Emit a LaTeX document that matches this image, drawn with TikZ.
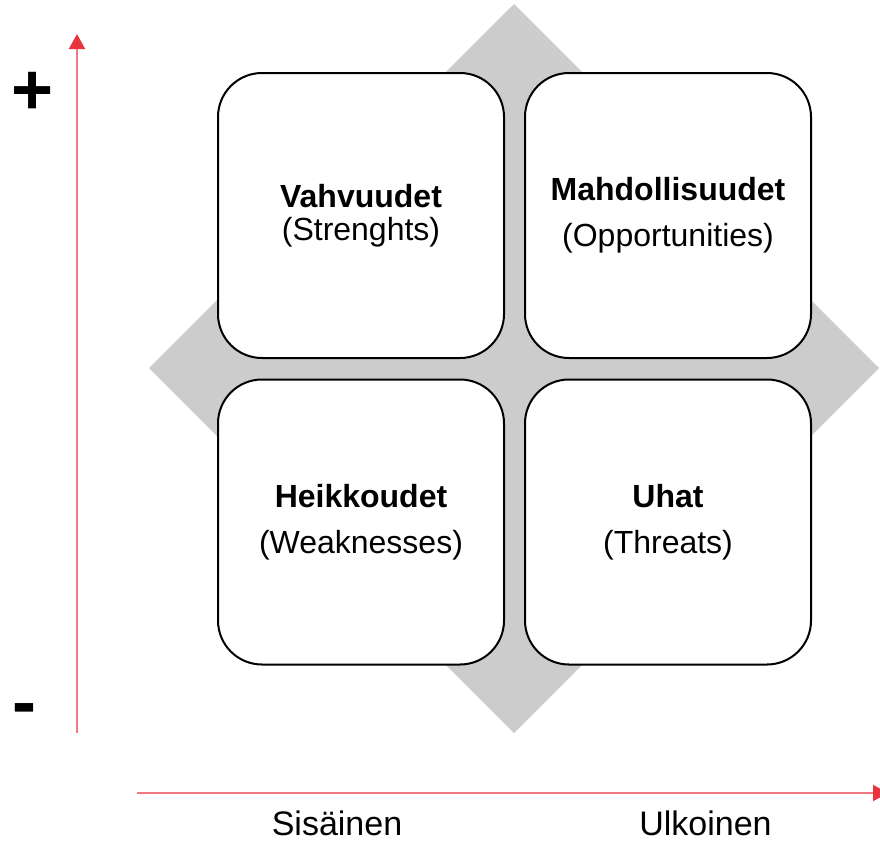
\documentclass[tikz,border=0pt]{standalone}
\usepackage{fontspec}
\setmainfont{Liberation Sans}
\usetikzlibrary{arrows.meta}
\definecolor{diagray}{RGB}{204,204,204}
\definecolor{axisline}{RGB}{240,124,130}
\definecolor{axistip}{RGB}{232,52,62}
\begin{document}
\begin{tikzpicture}[x=1pt,y=-1pt,
    swotbox/.style={draw=black,line width=2pt,fill=white,rounded corners=44pt,
        minimum width=286pt,minimum height=285pt,inner sep=0pt,align=center,
        font=\fontsize{32}{38}\selectfont},
    axis/.style={draw=axisline,line width=2pt,
        -{Triangle[length=15pt,width=16pt,color=axistip]}},
    axislabel/.style={anchor=base,inner sep=0pt,font=\fontsize{34}{40}\selectfont},
    sign/.style={font=\fontsize{72}{80}\selectfont\bfseries,inner sep=0pt}]
    \useasboundingbox (0,0) rectangle (880,841);
    \clip (0,0) rectangle (880,841);
    \fill[diagray] (514,4) -- (879,368) -- (514,733) -- (149,368) -- cycle;
    \node[swotbox] (str) at (361,215.5)
        {\textbf{Vahvuudet}\\[-5pt](Strenghts)};
    \node[swotbox] (opp) at (668,215.5)
        {\textbf{Mahdollisuudet}\\[8pt](Opportunities)};
    \node[swotbox] (weak) at (361,522)
        {\textbf{Heikkoudet}\\[8pt](Weaknesses)};
    \node[swotbox] (thr) at (668,522)
        {\textbf{Uhat}\\[8pt](Threats)};
    \coordinate (ybot) at (77,733);
    \coordinate (ytop) at (77,34);
    \coordinate (xleft) at (137,793);
    \coordinate (xright) at (888,793);
    \draw[axis] (ybot) -- (ytop);
    \draw[axis] (xleft) -- (xright);
    \node[sign] (plus) at (33,93) {+};
    \node[sign] (minus) at (24,715) {-};
    \node[axislabel] (int) at (337,835) {Sisäinen};
    \node[axislabel] (ext) at (705.5,835) {Ulkoinen};
\end{tikzpicture}
\end{document}
